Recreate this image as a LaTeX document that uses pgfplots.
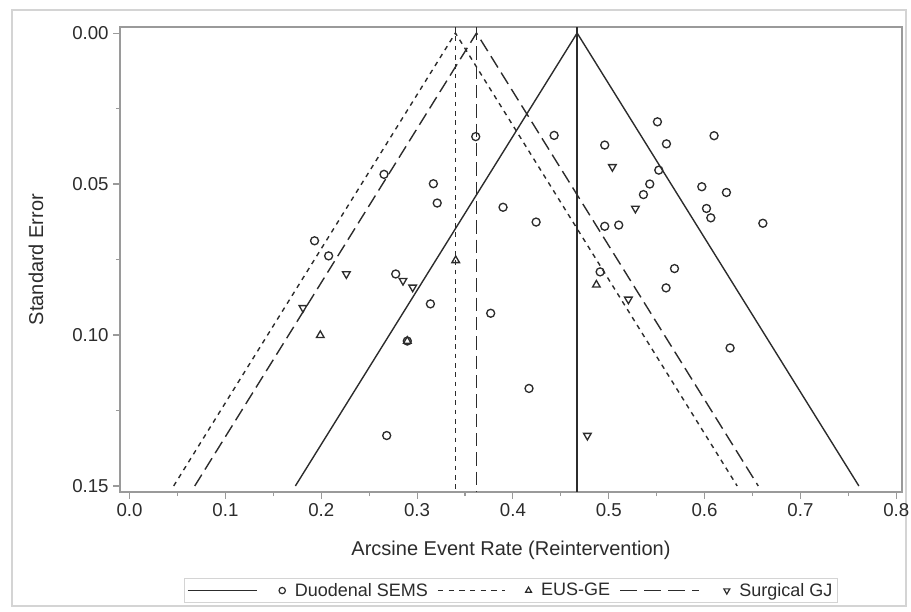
\documentclass[border=0pt]{standalone}
\usepackage{pgfplots}
\pgfplotsset{compat=1.18}
\usepackage{fontspec}
\setmainfont{Liberation Sans}

\definecolor{ink}{HTML}{2C2C2C}
\definecolor{axisgray}{HTML}{9A9A9A}
\definecolor{outergray}{HTML}{D4D4D4}

% Study estimates: arcsine event rate (x) and standard error (y)
\pgfplotstableread{
x se
0.3612 0.0343
0.4430 0.0339
0.4958 0.0371
0.5508 0.0294
0.5602 0.0367
0.6099 0.0340
0.5522 0.0454
0.5428 0.0500
0.5362 0.0535
0.5971 0.0509
0.6228 0.0528
0.6020 0.0581
0.6065 0.0612
0.4958 0.0640
0.5104 0.0636
0.3897 0.0577
0.4242 0.0626
0.6608 0.0630
0.2655 0.0468
0.3170 0.0499
0.3210 0.0563
0.1930 0.0688
0.2077 0.0738
0.2777 0.0798
0.3139 0.0897
0.2898 0.1020
0.2683 0.1333
0.3768 0.0928
0.4168 0.1177
0.4910 0.0791
0.5598 0.0844
0.5686 0.0780
0.6266 0.1043
}\sems

\pgfplotstableread{
x se
0.3403 0.0753
0.1990 0.1001
0.2898 0.1020
0.4871 0.0834
}\eusge

\pgfplotstableread{
x se
0.5038 0.0443
0.5278 0.0581
0.2262 0.0798
0.2853 0.0820
0.2954 0.0842
0.1809 0.0910
0.5205 0.0882
0.4777 0.1333
}\surggj

\begin{document}
\begin{tikzpicture}[x=0.75pt,y=0.75pt]
\path[use as bounding box] (0,0) rectangle (911,611);
\draw[outergray, line width=1.2pt] (12,5) rectangle (906,601);
\begin{axis}[
  at={(90pt,89.25pt)}, anchor=south west,
  scale only axis, width=586.5pt, height=348.75pt,
  xmin=-0.010, xmax=0.806, ymin=-0.002, ymax=0.152,
  y dir=reverse,
  xtick={0,0.1,0.2,0.3,0.4,0.5,0.6,0.7,0.8},
  minor xtick={0.05,0.15,0.25,0.35,0.45,0.55,0.65,0.75},
  ytick={0,0.05,0.10,0.15},
  minor ytick={0.025,0.075,0.125},
  xtick pos=bottom, ytick pos=left, tick align=outside,
  major tick length=5pt, minor tick length=3pt,
  every tick/.style={axisgray, line width=0.8pt},
  axis line style={axisgray, line width=0.9pt},
  xticklabel style={/pgf/number format/.cd, fixed, fixed zerofill, precision=1, assume math mode=true},
  yticklabel style={/pgf/number format/.cd, fixed, fixed zerofill, precision=2, assume math mode=true},
  ticklabel style={font=\fontsize{14}{16}\selectfont, text=ink},
  xlabel={Arcsine Event Rate (Reintervention)},
  ylabel={Standard Error},
  label style={font=\fontsize{15}{18}\selectfont, text=ink},
  xlabel style={at={(axis description cs:0.5,-0.125)}, anchor=center},
  ylabel style={at={(axis description cs:-0.1074,0.5)}, anchor=center},
  legend columns=3,
  legend style={at={(axis description cs:0.5,-0.212)}, anchor=center,
    draw=outergray, line width=0.9pt, fill=white,
    font=\fontsize{13.5}{16}\selectfont, text=ink,
    inner xsep=2pt, inner ysep=1.5pt,
    /tikz/column 1/.style={column sep=2pt},
    /tikz/column 2/.style={column sep=5pt},
    /tikz/column 3/.style={column sep=2pt},
    /tikz/column 4/.style={column sep=5pt},
    /tikz/column 5/.style={column sep=2pt}},
]
% pooled estimate and 95% limits, Duodenal SEMS
\addplot[ink, line width=1.05pt, forget plot] coordinates {(0.173,0.15) (0.467,0) (0.761,0.15)};
\addplot[ink, line width=1.05pt, forget plot] coordinates {(0.467,-0.002) (0.467,0.152)};
% EUS-GE
\addplot[ink, line width=1.05pt, dash pattern=on 3.5pt off 3.5pt, forget plot] coordinates {(0.046,0.15) (0.340,0) (0.634,0.15)};
\addplot[ink, line width=1.05pt, dash pattern=on 3.5pt off 3.5pt, forget plot] coordinates {(0.340,-0.002) (0.340,0.152)};
% Surgical GJ
\addplot[ink, line width=1.05pt, dash pattern=on 10pt off 4.5pt, forget plot] coordinates {(0.068,0.15) (0.362,0) (0.656,0.15)};
\addplot[ink, line width=1.05pt, dash pattern=on 10pt off 4.5pt, forget plot] coordinates {(0.362,-0.002) (0.362,0.152)};

% individual studies
\addplot[only marks, mark=o, mark size=3pt, ink, line width=1pt, forget plot] table[x=x, y=se] {\sems};
\addplot[only marks, mark=triangle, mark size=3.3pt, ink, line width=1pt, forget plot] table[x=x, y=se] {\eusge};
\addplot[only marks, mark=triangle, mark size=3.3pt, mark options={rotate=180}, ink, line width=1pt, forget plot] table[x=x, y=se] {\surggj};

\addlegendimage{legend image code/.code={
  \draw[ink, line width=1pt] (0pt,0pt) -- (52pt,0pt);
  \draw[ink, line width=0.9pt] (71pt,0pt) circle (2.4pt);
  \path (76pt,0pt);}}
\addlegendentry{Duodenal SEMS}
\addlegendimage{legend image code/.code={
  \draw[ink, line width=1pt, dash pattern=on 4pt off 4pt] (0pt,0pt) -- (50pt,0pt);
  \draw[ink, line width=0.9pt, mark size=2.6pt] plot[mark=triangle] coordinates {(68pt,0pt)};
  \path (73pt,0pt);}}
\addlegendentry{EUS-GE}
\addlegendimage{legend image code/.code={
  \draw[ink, line width=1pt, dash pattern=on 13pt off 5pt] (0pt,0pt) -- (59pt,0pt);
  \draw[ink, line width=0.9pt, mark size=2.6pt] plot[mark=triangle, mark options={rotate=180}] coordinates {(80pt,0pt)};
  \path (85pt,0pt);}}
\addlegendentry{Surgical GJ}
\end{axis}
\end{tikzpicture}
\end{document}
